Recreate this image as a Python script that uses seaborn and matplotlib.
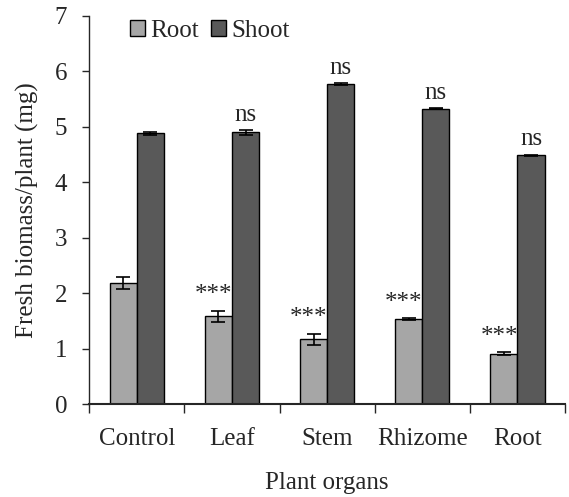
import matplotlib
matplotlib.use("Agg")
import matplotlib.pyplot as plt
import numpy as np
import pandas as pd
import seaborn as sns

# Data
organs = ["Control", "Leaf", "Stem", "Rhizome", "Root"]
root_mean = [2.19, 1.58, 1.17, 1.53, 0.91]
root_err = [0.11, 0.10, 0.10, 0.02, 0.03]
shoot_mean = [4.88, 4.90, 5.77, 5.33, 4.49]
shoot_err = [0.03, 0.04, 0.02, 0.01, 0.01]
root_sig = ["", "***", "***", "***", "***"]
shoot_sig = ["", "ns", "ns", "ns", "ns"]

df = pd.DataFrame({
    "organ": organs * 2,
    "part": ["Root"] * 5 + ["Shoot"] * 5,
    "value": root_mean + shoot_mean,
})

sns.set_theme(style="ticks")
plt.rcParams["font.family"] = ["Liberation Serif", "DejaVu Serif"]
fs = 18

fig = plt.figure(figsize=(5.69, 4.97), dpi=100)
ax = fig.add_axes([0.157, 0.187, 0.836, 0.781])

sns.barplot(
    data=df, x="organ", y="value", hue="part", order=organs,
    palette={"Root": "#a6a6a6", "Shoot": "#595959"},
    width=0.57, gap=0, errorbar=None, edgecolor="black", linewidth=1.0,
    ax=ax,
)

# Error bars and significance labels on top of each bar
for cont, means, errs, sig in zip(ax.containers, [root_mean, shoot_mean],
                                  [root_err, shoot_err], [root_sig, shoot_sig]):
    xs = [p.get_x() + p.get_width() / 2 for p in cont.patches]
    ax.errorbar(xs, means, yerr=errs, fmt="none", ecolor="black",
                elinewidth=1.2, capsize=5, capthick=1.2)
    for x, m, e, s in zip(xs, means, errs, sig):
        if s:
            ax.text(x - (0.05 if s == "***" else 0), m + e + 0.08, s,
                    ha="center", va="bottom", fontsize=fs)

ax.set_ylim(0, 7)
ax.set_xlim(-0.5, 4.5)
ax.set_yticks(range(0, 8))
ax.set_xticks(np.arange(-0.5, 5, 1))
ax.set_xticklabels([])
ax.set_xticks(range(5), minor=True)
ax.set_xticklabels(organs, minor=True)
ax.tick_params(axis="x", which="major", length=6.5, width=1, direction="out")
ax.tick_params(axis="x", which="minor", length=0, pad=17, labelsize=fs)
ax.tick_params(axis="y", length=5, width=1, pad=11, labelsize=fs, direction="out")
ax.set_xlabel("Plant organs", fontsize=fs, labelpad=16)
ax.set_ylabel("Fresh biomass/plant (mg)", fontsize=fs, labelpad=11)
sns.despine(ax=ax)
ax.spines["bottom"].set_linewidth(1.5)
ax.spines["left"].set_linewidth(1.0)

ax.legend(loc="upper left", bbox_to_anchor=(0.085, 0.99), ncol=2, frameon=False,
          borderpad=0, borderaxespad=0,
          handlelength=0.6, handleheight=0.6, handletextpad=0.2,
          columnspacing=0.5, fontsize=fs)

fig.savefig("out.png", dpi=100)
